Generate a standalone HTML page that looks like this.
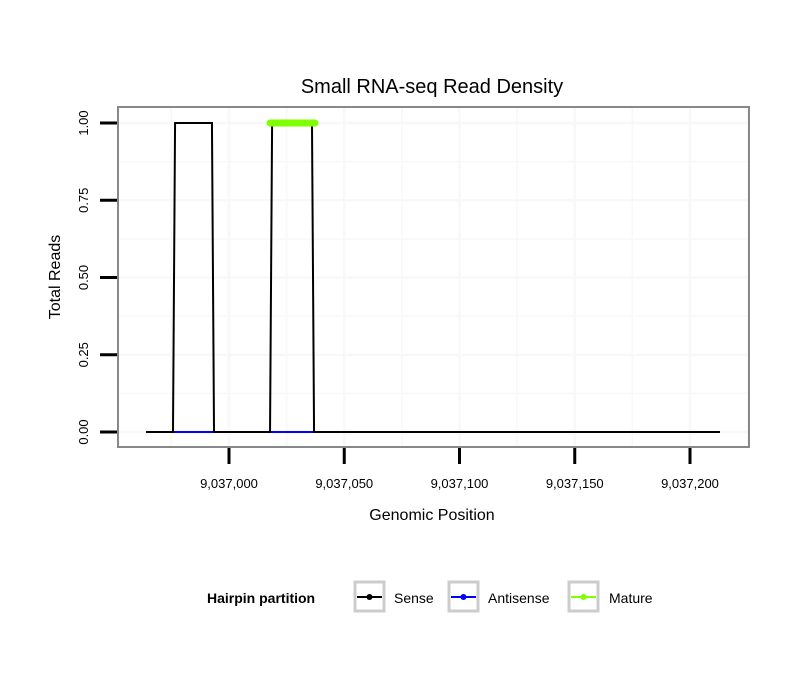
<!DOCTYPE html>
<html><head><meta charset="utf-8"><style>
body{margin:0;background:#fff}
svg text{font-family:"Liberation Sans",sans-serif}
</style></head><body>
<svg id="c" width="810" height="690" xmlns="http://www.w3.org/2000/svg">
<rect width="810" height="690" fill="#fff"/>
<text x="432" y="93" font-size="20" text-anchor="middle" fill="#000">Small RNA-seq Read Density</text>
<g id="grid"></g>
<g id="series"></g>
<rect x="118" y="107" width="631" height="340" fill="none" stroke="#888" stroke-width="2"/>
<g id="axes"></g>
<text x="432" y="520" font-size="16" text-anchor="middle">Genomic Position</text>
<text transform="translate(60,277) rotate(-90)" font-size="16" text-anchor="middle">Total Reads</text>
<g>
<text x="207" y="603" font-size="14" font-weight="bold">Hairpin partition</text>
<g>
<rect x="355" y="582" width="29" height="29" fill="#fff" stroke="#ccc" stroke-width="3"/>
<line x1="357" y1="597" x2="382" y2="597" stroke="#000" stroke-width="2"/><circle cx="369.5" cy="597" r="3" fill="#000"/>
<text x="394" y="603" font-size="14">Sense</text></g>
<g>
<rect x="449" y="582" width="29" height="29" fill="#fff" stroke="#ccc" stroke-width="3"/>
<line x1="451" y1="597" x2="476" y2="597" stroke="#00f" stroke-width="2"/><circle cx="463.5" cy="597" r="3" fill="#00f"/>
<text x="488" y="603" font-size="14">Antisense</text></g>
<g>
<rect x="569" y="582" width="29" height="29" fill="#fff" stroke="#ccc" stroke-width="3"/>
<line x1="571" y1="597" x2="596" y2="597" stroke="#7fff00" stroke-width="2"/><circle cx="583.5" cy="597" r="3" fill="#7fff00"/>
<text x="609" y="603" font-size="14">Mature</text></g>
</g>
</svg>
<script>
const xTicks=[9037000,9037050,9037100,9037150,9037200];
const xTickLabels=["9,037,000","9,037,050","9,037,100","9,037,150","9,037,200"];
const yTicks=[0,0.25,0.5,0.75,1];
const yTickLabels=["0.00","0.25","0.50","0.75","1.00"];
const senseX=[9036964,9036975.7,9036976.6,9036992.6,9036993.5,9037017.8,9037018.7,9037036,9037036.9,9037213];
const senseY=[0,0,1,1,0,0,1,1,0,0];
const antisenseX1=[9036975.7,9036993.5];
const antisenseX2=[9037017.8,9037036.9];
const matureX=[9037017.8,9037037.3];
const matureY=[1,1];
const NS="http://www.w3.org/2000/svg";
const xs=v=>229+(v-9037000)*2.305;
const ys=v=>432-v*309;
function mk(p,t,a){const e=document.createElementNS(NS,t);for(const k in a)e.setAttribute(k,a[k]);p.appendChild(e);return e;}
const grid=document.getElementById('grid'),ser=document.getElementById('series'),ax=document.getElementById('axes');
for(let v=9036950;v<=9037250;v+=25){const x=xs(v);if(x>119&&x<748){const l=mk(grid,'line',{x1:x,x2:x,y1:108,y2:446,stroke:'#f8f8f8','stroke-width':v%50===0?2.5:1.5});

}}
for(let v=-0.125;v<=1.125;v+=0.125){const y=ys(v);if(y>108&&y<446){const l=mk(grid,'line',{x1:119,x2:748,y1:y,y2:y,stroke:'#f8f8f8','stroke-width':(v*4)%1===0?2.5:1.5});

}}
xTicks.forEach((v,i)=>{const x=xs(v);
const t=mk(ax,'line',{x1:x,x2:x,y1:448,y2:464,stroke:'#000','stroke-width':3});


const tx=mk(ax,'text',{x:x,y:488,'font-size':13,'text-anchor':'middle'});tx.textContent=xTickLabels[i];

});
yTicks.forEach((v,i)=>{const y=ys(v);
const t=mk(ax,'line',{x1:100,x2:117,y1:y,y2:y,stroke:'#000','stroke-width':3});


const tx=mk(ax,'text',{transform:`translate(88,${y}) rotate(-90)`,'font-size':13,'text-anchor':'middle'});tx.textContent=yTickLabels[i];

});
[antisenseX1,antisenseX2].forEach(a=>{const l=mk(ser,'line',{x1:xs(a[0]),x2:xs(a[1]),y1:ys(0),y2:ys(0),stroke:'#00f','stroke-width':2});

});
const sp=mk(ser,'polyline',{points:senseX.map((v,i)=>xs(v)+','+ys(senseY[i])).join(' '),fill:'none',stroke:'#000','stroke-width':2});


const mp=mk(ser,'polyline',{points:matureX.map((v,i)=>xs(v)+','+ys(matureY[i])).join(' '),fill:'none',stroke:'#7fff00','stroke-width':7,'stroke-linecap':'round'});


</script>
</body></html>
